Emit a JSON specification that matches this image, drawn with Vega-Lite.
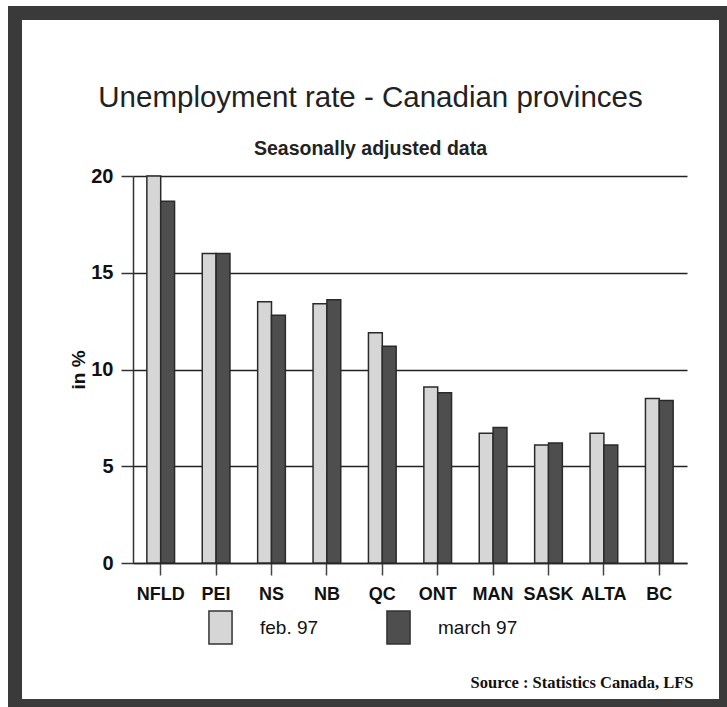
{
  "$schema": "https://vega.github.io/schema/vega-lite/v6.json",
  "width": 711,
  "height": 693,
  "autosize": {"type": "none"},
  "padding": {"left": 15, "top": 13, "right": 1, "bottom": 1},
  "background": "white",
  "title": {
    "text": "Unemployment rate - Canadian provinces",
    "subtitle": "Seasonally adjusted data",
    "anchor": "middle",
    "frame": "group",
    "font": "Liberation Sans",
    "fontSize": 29.5,
    "fontWeight": "normal",
    "color": "#222222",
    "subtitleFont": "Liberation Sans",
    "subtitleFontSize": 19.5,
    "subtitleFontWeight": "bold",
    "subtitleColor": "#222222",
    "subtitlePadding": 26,
    "offset": -146
  },
  "data": {
    "values": [
      {"province": "NFLD", "period": "feb. 97", "rate": 20.0},
      {"province": "NFLD", "period": "march 97", "rate": 18.7},
      {"province": "PEI", "period": "feb. 97", "rate": 16.0},
      {"province": "PEI", "period": "march 97", "rate": 16.0},
      {"province": "NS", "period": "feb. 97", "rate": 13.5},
      {"province": "NS", "period": "march 97", "rate": 12.8},
      {"province": "NB", "period": "feb. 97", "rate": 13.4},
      {"province": "NB", "period": "march 97", "rate": 13.6},
      {"province": "QC", "period": "feb. 97", "rate": 11.9},
      {"province": "QC", "period": "march 97", "rate": 11.2},
      {"province": "ONT", "period": "feb. 97", "rate": 9.1},
      {"province": "ONT", "period": "march 97", "rate": 8.8},
      {"province": "MAN", "period": "feb. 97", "rate": 6.7},
      {"province": "MAN", "period": "march 97", "rate": 7.0},
      {"province": "SASK", "period": "feb. 97", "rate": 6.1},
      {"province": "SASK", "period": "march 97", "rate": 6.2},
      {"province": "ALTA", "period": "feb. 97", "rate": 6.7},
      {"province": "ALTA", "period": "march 97", "rate": 6.1},
      {"province": "BC", "period": "feb. 97", "rate": 8.5},
      {"province": "BC", "period": "march 97", "rate": 8.4}
    ]
  },
  "mark": {"type": "bar", "stroke": "#2a2a2a", "strokeWidth": 1.5},
  "encoding": {
    "x": {
      "field": "province",
      "type": "nominal",
      "sort": null,
      "scale": {"range": [118, 672], "paddingInner": 0.5, "paddingOuter": 0.25},
      "axis": {
        "offset": -143,
        "title": "Source : Statistics Canada, LFS",
        "titleFont": "Liberation Serif",
        "titleFontSize": 16.5,
        "titleFontWeight": "bold",
        "titleColor": "#111111",
        "titleX": 678,
        "titleY": 124,
        "titleAlign": "right",
        "titleAnchor": null,
        "titleBaseline": "alphabetic",
        "labelAngle": 0,
        "labelFont": "Liberation Sans",
        "labelFontSize": 18,
        "labelFontWeight": "bold",
        "labelColor": "#111111",
        "labelPadding": 10,
        "tickSize": 12,
        "tickColor": "#444444",
        "tickWidth": 1.5,
        "domainColor": "#222222",
        "domainWidth": 1.5,
        "grid": false
      }
    },
    "xOffset": {"field": "period", "type": "nominal", "scale": {"paddingInner": 0, "paddingOuter": 0}},
    "y": {
      "field": "rate",
      "type": "quantitative",
      "scale": {"domain": [0, 20], "range": [550, 163], "nice": false},
      "axis": {
        "offset": -118,
        "values": [0, 5, 10, 15, 20],
        "title": "in %",
        "titleFont": "Liberation Sans",
        "titleFontSize": 19,
        "titleFontWeight": "bold",
        "titleColor": "#111111",
        "titlePadding": 2,
        "labelFont": "Liberation Sans",
        "labelFontSize": 20,
        "labelFontWeight": "bold",
        "labelColor": "#111111",
        "labelPadding": 8,
        "tickSize": 12,
        "tickColor": "#333333",
        "tickWidth": 1.5,
        "domainColor": "#333333",
        "domainWidth": 1.5,
        "grid": true,
        "gridColor": "#222222",
        "gridWidth": 1.5,
        "gridOpacity": 1
      }
    },
    "color": {
      "field": "period",
      "type": "nominal",
      "scale": {"domain": ["feb. 97", "march 97"], "range": ["#d6d6d6", "#4e4e4e"]},
      "legend": {
        "title": null,
        "orient": "none",
        "legendX": 188,
        "legendY": 597,
        "direction": "horizontal",
        "padding": 0,
        "symbolType": "M-0.7,-1H0.7V1H-0.7Z",
        "symbolSize": 1089,
        "symbolStrokeColor": "#333333",
        "symbolStrokeWidth": 1.5,
        "symbolOpacity": 1,
        "labelOffset": 22,
        "columnPadding": 62,
        "labelFont": "Liberation Sans",
        "labelFontSize": 19,
        "labelColor": "#111111",
        "labelLimit": 200
      }
    }
  },
  "config": {
    "view": {"stroke": "#3a3a3a", "strokeWidth": 14, "fill": "white"},
    "bar": {"opacity": 1}
  }
}
